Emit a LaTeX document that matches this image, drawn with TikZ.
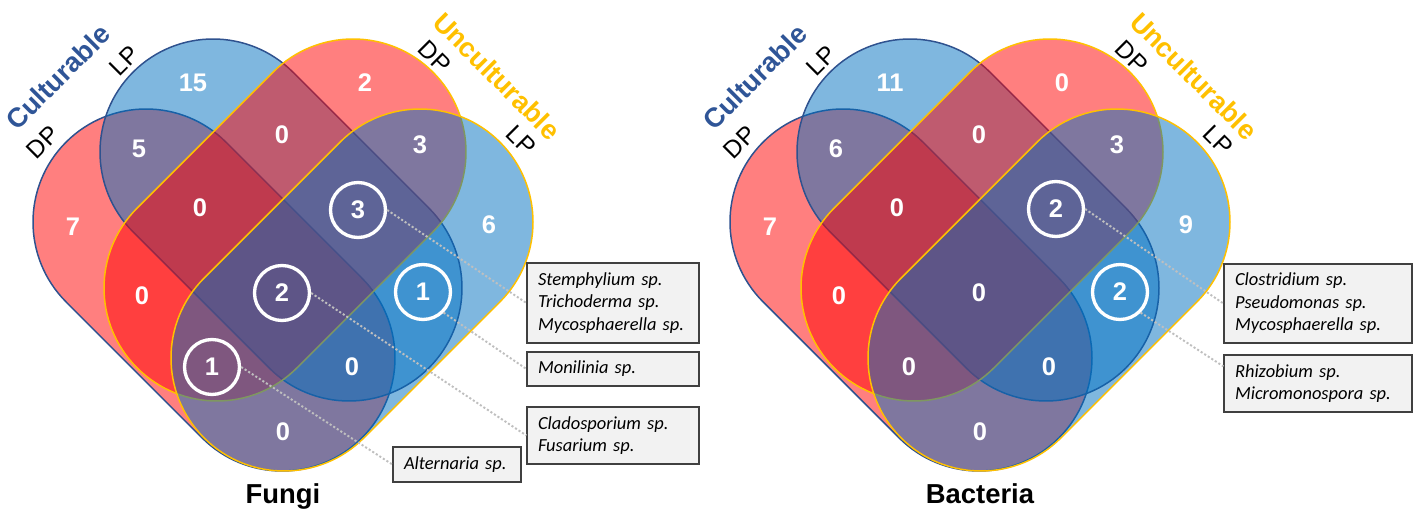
\documentclass[tikz,border=0pt]{standalone}
\usepackage{fontspec}
\setmainfont{Liberation Sans}
\newfontfamily\boxfont{Carlito}
\usetikzlibrary{calc}
\definecolor{cblue}{HTML}{2F528F}
\definecolor{ctitle}{HTML}{2F5597}
\definecolor{cgold}{HTML}{FFC000}
\definecolor{cred}{HTML}{FF0000}
\definecolor{cfillblue}{HTML}{0070C0}
\definecolor{boxfill}{HTML}{F2F2F2}
\definecolor{boxline}{HTML}{404040}
\definecolor{leadgray}{HTML}{BFBFBF}
\newcommand\capsule[4]{%
  \path[#4] ($(#1)+(#3+90:113)$) -- ($(#2)+(#3+90:113)$)
    arc[start angle=#3+90, end angle=#3-90, radius=113]
    -- ($(#1)+(#3-90:113)$)
    arc[start angle=#3-90, end angle=#3-270, radius=113] -- cycle;}
\newcommand\vennshapes{%
  \capsule{146,222}{282,358}{45}{redcap,draw=cblue}
  \capsule{213,152}{349,288}{45}{bluecap,draw=cblue}
  \capsule{353,152}{217,288}{135}{redcap,draw=cgold}
  \capsule{420,222}{284,358}{135}{bluecap,draw=cgold}}
\tikzset{
  redcap/.style={fill=cred, fill opacity=0.5, line width=0.85pt},
  bluecap/.style={fill=cfillblue, fill opacity=0.5, line width=0.85pt},
  num/.style={text=white, font=\fontsize{14.5}{16}\selectfont\bfseries, inner sep=0pt},
  circnum/.style={num, circle, draw=white, line width=1.9pt, minimum size=1.1cm},
  setlabel/.style={text=black, font=\fontsize{14}{16}\selectfont, inner sep=0pt},
  grouplabel/.style={font=\fontsize{15.5}{17}\selectfont\bfseries, inner sep=0pt},
  title/.style={font=\fontsize{15.6}{18}\selectfont\bfseries, anchor=base, inner sep=0pt},
  spbox/.style={draw=boxline, fill=boxfill, line width=0.7pt, align=left,
    font=\boxfont\itshape\fontsize{10.5}{12.8}\selectfont, inner xsep=0.22cm, inner ysep=0pt},
  leader/.style={draw=leadgray, line width=1.1pt, dash pattern=on 1.2pt off 1.2pt}
}
\begin{document}
\begin{tikzpicture}[x=0.02cm, y=-0.02cm]
\useasboundingbox (0,0) rectangle (1418,517);
% ---------------- Fungi ----------------
\vennshapes
\node[num] (f15) at (193,83) {15};
\node[num] (fC) at (365,83) {2};
\node[num] (fAB) at (139,149) {5};
\node[num] (fBC) at (282,135) {0};
\node[num] (fCD) at (420,145) {3};
\node[num] (fA) at (73,227) {7};
\node[num] (fABC) at (200,208) {0};
\node[circnum] (fc3) at (358,210) {3};
\node[num] (fD) at (489,225) {6};
\node[num] (fAC) at (142,296) {0};
\node[circnum] (fc2) at (282,293) {2};
\node[circnum] (fc1b) at (423,292) {1};
\node[circnum] (fc1a) at (212,367) {1};
\node[num] (fABD) at (352,367) {0};
\node[num] (fAD) at (283,432) {0};
\node[grouplabel, text=ctitle, rotate=45] (fcul) at (58,77) {Culturable};
\node[setlabel, rotate=45] (fcLP) at (124,61) {LP};
\node[setlabel, rotate=45] (fcDP) at (43,142) {DP};
\node[grouplabel, text=cgold, rotate=-45] (func) at (497,76) {Unculturable};
\node[setlabel, rotate=-45] (fuDP) at (435,57) {DP};
\node[setlabel, rotate=-45] (fuLP) at (521,140) {LP};
\node[title] (ftitle) at (283,503) {Fungi};
\node[spbox, text width=3cm, minimum height=1.6cm] (fb1) at (613,303)
  {Stemphylium sp.\\Trichoderma sp.\\Mycosphaerella sp.};
\node[spbox, text width=3cm, minimum height=0.68cm] (fb2) at (613,369) {Monilinia sp.};
\node[spbox, text width=3cm, minimum height=1.14cm] (fb3) at (613,435.5)
  {Cladosporium sp.\\Fusarium sp.};
\node[spbox, text width=2.12cm, minimum height=0.7cm] (fb4) at (457,464.5) {Alternaria sp.};
\draw[leader] (fc3.east) -- (fb1.west);
\draw[leader] (fc1b.south east) -- (fb2.west);
\draw[leader] (fc2.east) -- (fb3.west);
\draw[leader] (fc1a.east) -- (fb4.west);
% ---------------- Bacteria ----------------
\begin{scope}[shift={(697,0)}]
\vennshapes
\end{scope}
\node[num] (b11) at (890,83) {11};
\node[num] (bC) at (1062,83) {0};
\node[num] (bAB) at (836,149) {6};
\node[num] (bBC) at (979,135) {0};
\node[num] (bCD) at (1117,145) {3};
\node[num] (bA) at (770,227) {7};
\node[num] (bABC) at (897,208) {0};
\node[circnum] (bc2a) at (1056,209) {2};
\node[num] (bD) at (1186,225) {9};
\node[num] (bAC) at (839,296) {0};
\node[num] (bABCD) at (979,293) {0};
\node[circnum] (bc2b) at (1120,292) {2};
\node[num] (bACD) at (909,367) {0};
\node[num] (bABD) at (1049,367) {0};
\node[num] (bAD) at (980,432) {0};
\node[grouplabel, text=ctitle, rotate=45] (bcul) at (755,77) {Culturable};
\node[setlabel, rotate=45] (bcLP) at (821,61) {LP};
\node[setlabel, rotate=45] (bcDP) at (740,142) {DP};
\node[grouplabel, text=cgold, rotate=-45] (bunc) at (1194,76) {Unculturable};
\node[setlabel, rotate=-45] (buDP) at (1132,57) {DP};
\node[setlabel, rotate=-45] (buLP) at (1218,140) {LP};
\node[title] (btitle) at (980,503) {Bacteria};
\node[spbox, text width=3.32cm, minimum height=1.58cm] (bb1) at (1318,303.5)
  {Clostridium sp.\\Pseudomonas sp.\\Mycosphaerella sp.};
\node[spbox, text width=3.32cm, minimum height=1.14cm] (bb2) at (1318,383.5)
  {Rhizobium sp.\\Micromonospora sp.};
\draw[leader] (bc2a.east) -- (bb1.west);
\draw[leader] (bc2b.south east) -- ($(bb2.north west)+(0,12)$);
\end{tikzpicture}
\end{document}
